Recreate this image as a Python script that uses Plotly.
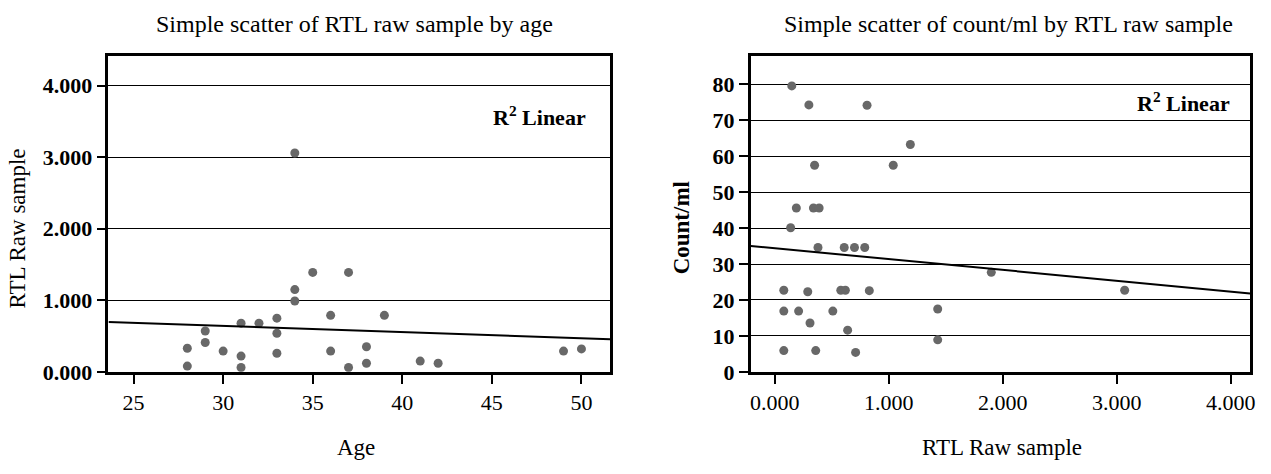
import numpy as np
import plotly.graph_objects as go

# Left chart: RTL raw sample by age
age = [28, 28, 29, 29, 30, 31, 31, 31, 32, 33, 33, 33, 34, 34, 34, 35,
       37, 36, 39, 36, 38, 38, 37, 41, 42, 49, 50]
rtl_by_age = [0.33, 0.08, 0.57, 0.41, 0.29, 0.68, 0.22, 0.06, 0.68, 0.75, 0.54, 0.26,
              3.06, 1.15, 0.99, 1.39, 1.39, 0.79, 0.79, 0.29, 0.35, 0.12, 0.06, 0.15,
              0.12, 0.29, 0.32]

# Right chart: count/ml by RTL raw sample
rtl_raw = [0.15, 0.30, 0.81, 1.19, 1.04, 0.35, 0.19, 0.34, 0.39, 0.14, 0.38, 0.61,
           0.70, 0.79, 0.08, 0.29, 0.58, 0.62, 0.83, 0.08, 0.21, 0.51, 0.31, 0.64,
           0.08, 0.36, 0.71, 1.43, 1.43, 1.90, 3.07]
count_ml = [79.6, 74.3, 74.2, 63.3, 57.5, 57.5, 45.6, 45.6, 45.6, 40.1, 34.6, 34.6,
            34.6, 34.6, 22.7, 22.3, 22.7, 22.7, 22.6, 16.9, 16.9, 16.9, 13.6, 11.6,
            5.9, 5.9, 5.4, 17.5, 8.9, 27.7, 22.7]

left_xticks = [25, 30, 35, 40, 45, 50]
left_yticks = [0, 1, 2, 3, 4]
right_xticks = [0, 1, 2, 3, 4]
right_yticks = [0, 10, 20, 30, 40, 50, 60, 70, 80]

left_xrange = [23.6, 51.6]
left_yrange = [0, 4.42]
right_xrange = [-0.21, 4.17]
right_yrange = [0, 88]

W, H = 1271, 474
FONT = "Liberation Serif"
DOT = "#686868"

fig = go.Figure()

fig.add_trace(go.Scatter(x=age, y=rtl_by_age, mode="markers",
                         marker=dict(color=DOT, size=9), xaxis="x", yaxis="y",
                         showlegend=False))
s1, i1 = np.polyfit(age, rtl_by_age, 1)
fx1 = np.array(left_xrange)
fig.add_trace(go.Scatter(x=fx1, y=i1 + s1 * fx1, mode="lines",
                         line=dict(color="black", width=2), xaxis="x", yaxis="y",
                         showlegend=False))

fig.add_trace(go.Scatter(x=rtl_raw, y=count_ml, mode="markers",
                         marker=dict(color=DOT, size=9), xaxis="x2", yaxis="y2",
                         showlegend=False))
s2, i2 = np.polyfit(rtl_raw, count_ml, 1)
fx2 = np.array(right_xrange)
fig.add_trace(go.Scatter(x=fx2, y=i2 + s2 * fx2, mode="lines",
                         line=dict(color="black", width=2), xaxis="x2", yaxis="y2",
                         showlegend=False))

ydom = [(H - 382.3) / H, (H - 57.3) / H]
common = dict(showline=True, linecolor="black", linewidth=2.5, mirror=True,
              ticks="outside", tickcolor="black", tickwidth=2, ticklen=9,
              zeroline=False)

fig.update_layout(
    width=W, height=H,
    margin=dict(l=0, r=0, t=0, b=0),
    paper_bgcolor="white", plot_bgcolor="white",
    font=dict(family=FONT, color="black"),
    xaxis=dict(domain=[108 / W, 612 / W], range=left_xrange, tickvals=left_xticks,
               showgrid=False, anchor="y",
               tickfont=dict(size=22, family=FONT), **common),
    yaxis=dict(domain=ydom, range=left_yrange, tickvals=left_yticks,
               tickformat=".3f", showgrid=True, gridcolor="black", gridwidth=1,
               anchor="x", tickfont=dict(size=22, family=FONT, weight="bold"), **common),
    xaxis2=dict(domain=[753.3 / W, 1255 / W], range=right_xrange, tickvals=right_xticks,
                tickformat=".3f", showgrid=False, anchor="y2",
                tickfont=dict(size=22, family=FONT), **common),
    yaxis2=dict(domain=ydom, range=right_yrange, tickvals=right_yticks,
                showgrid=True, gridcolor="black", gridwidth=1, anchor="x2",
                tickfont=dict(size=22, family=FONT, weight="bold"), **common),
)

ann = [
    dict(text="Simple scatter of RTL raw sample by age", x=355 / W, y=(H - 25) / H,
         font=dict(size=24)),
    dict(text="Simple scatter of count/ml by RTL raw sample", x=1012 / W, y=(H - 25) / H,
         font=dict(size=24)),
    dict(text="Age", x=357 / W, y=(H - 460) / H, font=dict(size=23)),
    dict(text="RTL Raw sample", x=1006 / W, y=(H - 460) / H, font=dict(size=23)),
    dict(text="RTL Raw sample", x=17 / W, y=(H - 235) / H, textangle=-90,
         font=dict(size=23)),
    dict(text="<b>Count/ml</b>", x=684 / W, y=(H - 234) / H, textangle=-90,
         font=dict(size=23)),
    dict(text="<b>R<sup>2</sup> Linear</b>", x=590 / W, y=(H - 119) / H,
         xanchor="right", font=dict(size=22)),
    dict(text="<b>R<sup>2</sup> Linear</b>", x=1237 / W, y=(H - 105) / H,
         xanchor="right", font=dict(size=22)),
]
for a in ann:
    a.setdefault("xanchor", "center")
    a.update(xref="paper", yref="paper", yanchor="middle", showarrow=False)
    a["font"] = dict(family=FONT, color="black", **a["font"])
    fig.add_annotation(**a)

fig.write_html("out.html",
               config={"displayModeBar": False},
               post_script="document.body.style.margin='0';document.body.style.overflow='hidden';")
